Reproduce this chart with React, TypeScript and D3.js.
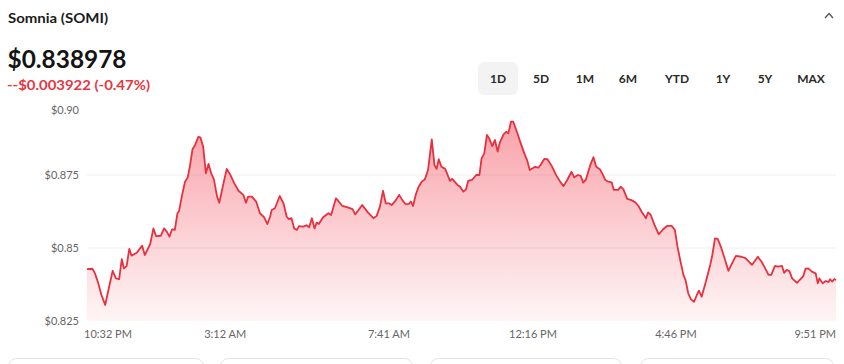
import React from "react";
import * as d3 from "d3";

const title = "Somnia (SOMI)";
const priceText = "$0.838978";
const changeText = "--$0.003922 (-0.47%)";
const ranges = ["1D", "5D", "1M", "6M", "YTD", "1Y", "5Y", "MAX"];
const activeRange = "1D";

// minutes since 10:32 PM
const times = [
  0, 10, 15, 21, 27, 34, 40, 48, 54, 60,
  65, 69, 74, 79, 83, 93, 103, 108, 118, 124,
  129, 138, 144, 149, 154, 159, 164, 169, 172, 177,
  183, 188, 192, 197, 202, 208, 212, 217, 222, 227,
  232, 237, 243, 247, 255, 261, 267, 275, 283, 292,
  297, 301, 308, 316, 323, 331, 337, 342,
  345, 351, 360, 367, 373, 377, 382, 387, 392, 396,
  404, 410, 415, 420, 425, 429, 433, 441, 451, 456,
  465, 469, 477, 487, 496, 501, 514, 525, 535, 541,
  547, 553, 558, 564, 569, 577, 583, 589, 595, 601,
  605, 609, 614, 619, 625, 631, 637, 644, 649, 653,
  657, 662, 669, 678, 682,
  692, 697, 703, 708, 712, 719, 727, 733, 737, 742,
  747, 751, 757, 762, 767, 771, 778, 783, 787, 792,
  796, 803, 810, 818, 822, 827, 837, 843, 848, 854,
  860, 868, 877, 884, 890, 897, 905, 910, 917, 922,
  927, 932, 940, 946, 951, 958, 963, 968, 974, 980,
  984, 992, 997, 1002, 1009, 1017, 1025, 1030, 1036, 1044,
  1048, 1053, 1060, 1068, 1076, 1084, 1092, 1098, 1103, 1108,
  1114, 1118, 1123, 1128, 1134, 1139, 1143, 1148, 1156, 1164,
  1168, 1173, 1178, 1184, 1190, 1198, 1205, 1212, 1222, 1230,
  1242, 1253, 1260, 1266, 1273, 1278, 1285, 1291, 1298, 1302,
  1307, 1312, 1317, 1326, 1330, 1338, 1342, 1347, 1354, 1361,
  1365, 1368, 1374, 1380, 1385, 1388, 1392, 1396, 1399,
];

const prices = [
  0.8428, 0.8429, 0.8413, 0.8379, 0.8339, 0.8305, 0.8356, 0.8422, 0.8396, 0.8393,
  0.8462, 0.843, 0.8438, 0.8497, 0.8474, 0.8484, 0.8508, 0.8476, 0.8513, 0.8567,
  0.8541, 0.8542, 0.8567, 0.8556, 0.8539, 0.8564, 0.8562, 0.8619, 0.8627, 0.8676,
  0.8727, 0.8741, 0.8778, 0.8838, 0.8853, 0.8881, 0.8878, 0.8847, 0.8756, 0.8788,
  0.8756, 0.8735, 0.8676, 0.8655, 0.8722, 0.8771, 0.8753, 0.8722, 0.8696, 0.8682,
  0.8655, 0.8676, 0.8676, 0.8659, 0.8619, 0.8605, 0.8582, 0.8607,
  0.863, 0.8636, 0.8678, 0.8653, 0.8607, 0.8599, 0.8602, 0.8567, 0.8562, 0.8575,
  0.8573, 0.8578, 0.8571, 0.8602, 0.8567, 0.8587, 0.8582, 0.8605, 0.8619, 0.8613,
  0.867, 0.8662, 0.8644, 0.8639, 0.8633, 0.8615, 0.8647, 0.8621, 0.8602, 0.861,
  0.8641, 0.8696, 0.8653, 0.8653, 0.8647, 0.8664, 0.8682, 0.8664, 0.865, 0.8651,
  0.8659, 0.8644, 0.8682, 0.8708, 0.8727, 0.8735, 0.8767, 0.8872, 0.8784, 0.8771,
  0.8804, 0.8778, 0.8771, 0.873, 0.8737,
  0.8716, 0.871, 0.8693, 0.8701, 0.873, 0.8733, 0.875, 0.875, 0.8807, 0.8824,
  0.8887, 0.8876, 0.8849, 0.887, 0.883, 0.8861, 0.8889, 0.8898, 0.8893, 0.8933,
  0.8933, 0.8898, 0.8859, 0.8818, 0.8801, 0.8767, 0.8778, 0.8775, 0.8787, 0.8805,
  0.8804, 0.8781, 0.8747, 0.8727, 0.8712, 0.8733, 0.8761, 0.8742, 0.875, 0.8747,
  0.8724, 0.8735, 0.8784, 0.8811, 0.8778, 0.877, 0.8753, 0.8733, 0.8727, 0.8725,
  0.8699, 0.8699, 0.871, 0.8701, 0.8668, 0.8664, 0.8655, 0.8644, 0.8624, 0.8602,
  0.8622, 0.8613, 0.8579, 0.8547, 0.8564, 0.8576, 0.8576, 0.8562, 0.8504, 0.8459,
  0.8408, 0.839, 0.8345, 0.8324, 0.8316, 0.8339, 0.8354, 0.8333, 0.8385, 0.8442,
  0.8476, 0.8533, 0.8531, 0.8504, 0.847, 0.8422, 0.8448, 0.8473, 0.847, 0.8465,
  0.8442, 0.847, 0.8453, 0.8433, 0.8408, 0.8408, 0.8439, 0.8436, 0.8439, 0.8415,
  0.8425, 0.8421, 0.8396, 0.8381, 0.8388, 0.8404, 0.8429, 0.843, 0.8419, 0.8413,
  0.8379, 0.8396, 0.8379, 0.8387, 0.8383, 0.8393, 0.8385, 0.8394, 0.839,
];

const yTicks = [0.825, 0.85, 0.875, 0.9];
const yTickLabels = ["$0.825", "$0.85", "$0.875", "$0.90"];
const xTickLabels = ["10:32 PM", "3:12 AM", "7:41 AM", "12:16 PM", "4:46 PM", "9:51 PM"];
const xTickMinutes = [0, 258, 564, 833, 1100, 1399];

const W = 844;
const H = 364;
const FONT = "Lato, 'Noto Sans', sans-serif";

export default function App() {
  const n = Math.min(times.length, prices.length);
  const data = d3.range(n).map((i) => ({ t: times[i], v: prices[i] }));

  const x = d3.scaleLinear().domain([0, 1399]).range([87, 836]);
  const y = d3.scaleLinear().domain([0.825, 0.9]).range([321, 102]);

  const line = d3
    .line<{ t: number; v: number }>()
    .x((d) => x(d.t))
    .y((d) => y(d.v));
  const area = d3
    .area<{ t: number; v: number }>()
    .x((d) => x(d.t))
    .y0(y(0.825))
    .y1((d) => y(d.v));

  const btnX = d3.scalePoint<string>().domain(ranges).range([498, 811]);
  // uneven spacing in the reference; use measured centers via small offsets
  const btnCenters: Record<string, number> = {};
  const measured = [498, 541, 585, 628, 677, 723, 765, 811];
  ranges.forEach((r, i) => (btnCenters[r] = measured[i] ?? btnX(r)!));

  const cards = [
    [8, 203],
    [220, 412],
    [430, 621],
    [640, 833],
  ];

  return (
    <svg
      width={W}
      height={H}
      style={{ position: "absolute", left: 0, top: 0, background: "#fff" }}
      fontFamily={FONT}
    >
      <defs>
        <linearGradient id="fillGrad" gradientUnits="userSpaceOnUse" x1="0" y1={y(0.9)} x2="0" y2={y(0.825)}>
          <stop offset="0%" stopColor="rgb(240,55,70)" stopOpacity={0.5} />
          <stop offset="100%" stopColor="rgb(240,55,70)" stopOpacity={0.05} />
        </linearGradient>
      </defs>

      {/* header */}
      <text x={8} y={22.5} fontSize={14} fontWeight={700} fill="#1b1b1b" textLength={100} lengthAdjust="spacingAndGlyphs">
        {title}
      </text>
      <path d="M825,18 L829,13.5 L833,18" fill="none" stroke="#555" strokeWidth={1.3} />
      <text x={7.5} y={68} fontSize={25} fontWeight={700} fill="#141414" textLength={119} lengthAdjust="spacingAndGlyphs">
        {priceText}
      </text>
      <text x={7} y={89.5} fontSize={13.5} fontWeight={700} fill="#e8353f" textLength={143} lengthAdjust="spacingAndGlyphs">
        {changeText}
      </text>

      {/* range buttons */}
      <rect x={478} y={62} width={40} height={33} rx={6} fill="#f3f3f3" />
      {ranges.map((r) => (
        <text
          key={r}
          x={btnCenters[r]}
          y={83}
          fontSize={12}
          fontWeight={700}
          fill="#2a2a2a"
          textAnchor="middle"
        >
          {r}
        </text>
      ))}

      {/* grid */}
      {yTicks.slice(1, 3).map((t) => (
        <line key={t} x1={87} x2={836} y1={y(t)} y2={y(t)} stroke="#efefef" strokeWidth={1} />
      ))}

      {/* area + line */}
      <path d={area(data) ?? ""} fill="url(#fillGrad)" />
      <path d={line(data) ?? ""} fill="none" stroke="#e8303e" strokeWidth={1.8} strokeLinejoin="round" />

      {/* y axis labels */}
      {yTicks.map((t, i) => (
        <text
          key={t}
          x={79}
          y={Math.max(y(t), 110)}
          dy="0.35em"
          fontSize={11}
          fill="#666"
          textAnchor="end"
        >
          {yTickLabels[i]}
        </text>
      ))}

      {/* x axis labels */}
      {xTickLabels.map((l, i) => {
        const first = i === 0;
        const last = i === xTickLabels.length - 1;
        return (
          <text
            key={l}
            x={first ? x(xTickMinutes[i]) - 3 : x(xTickMinutes[i])}
            y={334}
            dy="0.35em"
            fontSize={11}
            fill="#666"
            textAnchor={first ? "start" : last ? "end" : "middle"}
          >
            {l}
          </text>
        );
      })}

      {/* bottom cards (cut off) */}
      {cards.map(([a, b]) => (
        <rect key={a} x={a + 0.5} y={358.5} width={b - a} height={30} rx={8} fill="#fff" stroke="#e3e3e3" />
      ))}
    </svg>
  );
}
